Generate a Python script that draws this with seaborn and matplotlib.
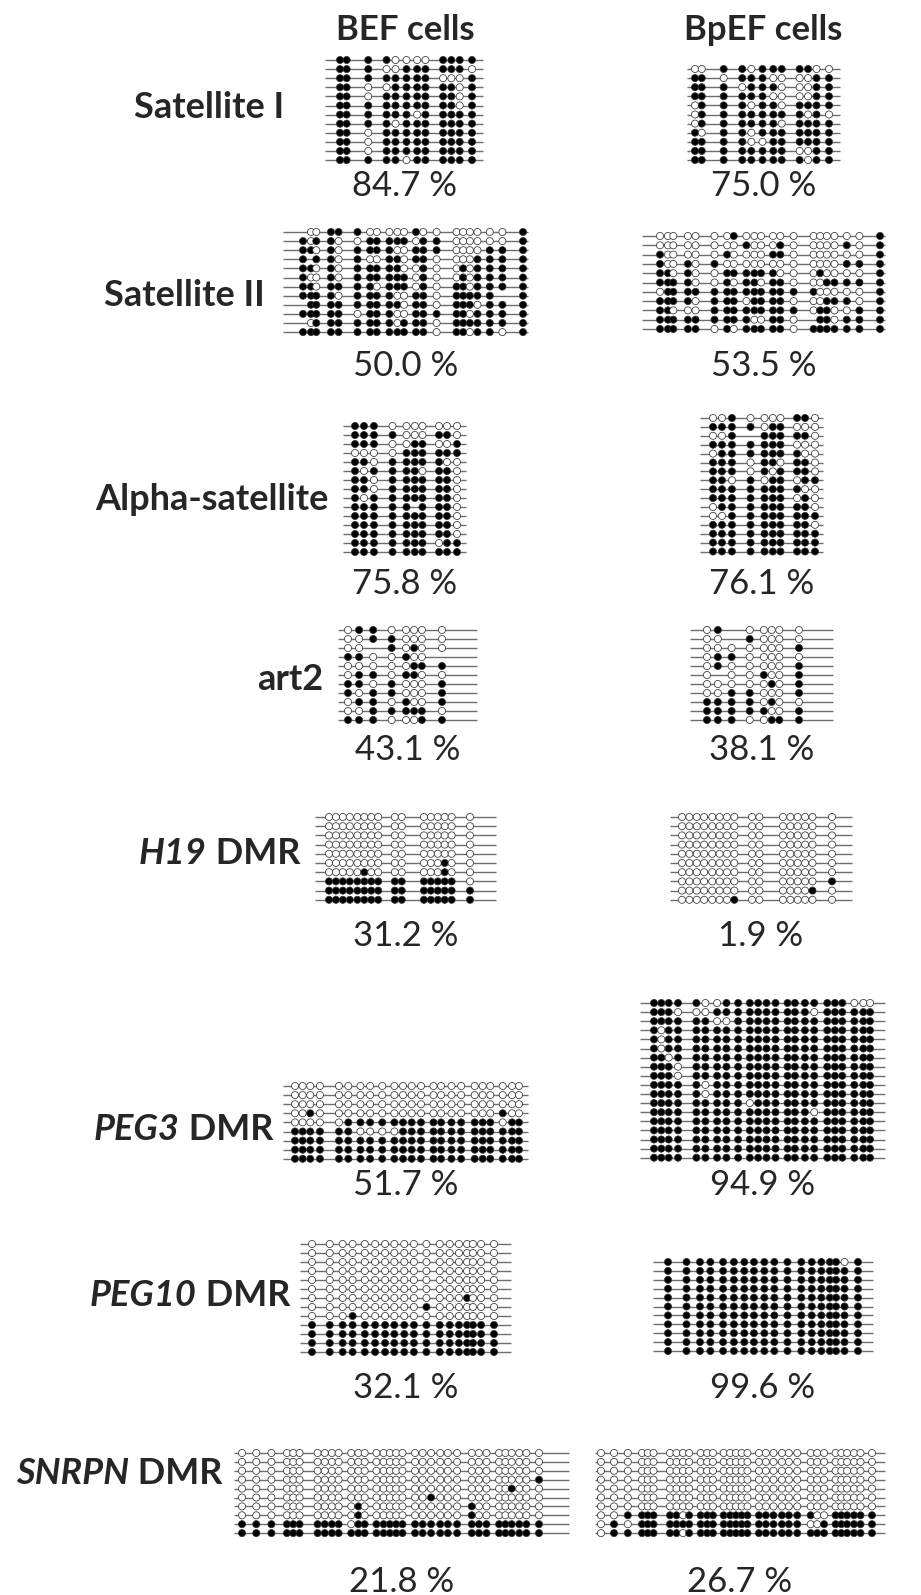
import numpy as np
import pandas as pd
import matplotlib.pyplot as plt
import seaborn as sns

# ---- data: CpG site positions (relative units) and clones (1 = methylated, 0 = unmethylated, - = n.d.)
sat1_sites = [65, 85, 150, 205, 232, 265, 297, 322, 375, 400, 425, 462]
sat1_bef = ["11 1 10000 111 1", "11 1 00111 111 0", "11 1 11111 000 1", "11 0 01111 110 1",
            "11 0 11111 110 1", "11 1 11111 110 1", "11 1 11101 111 1", "11 1 10111 111 1",
            "11 0 11111 111 1", "11 0 11111 111 1", "11 0 11111 111 1", "11 1 11011 111 1"]
sat1_bpef = ["00 1 10111 110 0", "11 0 11100 001 1", "11 1 01110 001 1", "11 1 11100 001 1",
             "01 1 10110 111 1", "01 1 11111 101 0", "01 1 11110 111 1", "10 1 10111 111 1",
             "11 1 10011 111 1", "11 1 11111 001 1", "11 1 11111 101 1"]

sat2_sites = [68, 92, 108, 152, 175, 232, 270, 290, 328, 352, 372, 408, 430, 470,
              530, 550, 570, 593, 630, 668, 730]
sat2_bef = ["-00 11 1 00 000 10 0 0000 0 0 1", "101 10 0 11 111 01 1 0000 0 0 1",
            "110 10 1 11 100 11 1 0000 1 1 1", "1-1 10 1 00 110 11 0 0001 1 1 1",
            "110 10 1 11 110 01 0 0101 1 1 1", "100 10 1 11 111 01 0 0101 1 1 1",
            "110 11 1 10 111 01 0 1101 1 1 1", "111 10 1 11 100 11 0 1111 1 - 1",
            "-11 11 1 11 110 11 0 1110 1 1 1", "111 11 0 11 100 11 1 1101 1 1 1",
            "-01 11 1 11 101 11 0 1111 1 1 1", "111 11 1 11 111 11 0 1101 1 0 1"]
sat2_bpef = ["000 00 0 01 000 00 0 0000 0 0 1", "000 00 0 00 100 01 0 0000 1 0 1",
             "100 00 0 10 000 11 0 0000 0 0 1", "100 10 1 00 000 00 0 0000 1 1 1",
             "110 10 0 11 111 10 0 0100 0 0 1", "111 10 0 10 110 11 0 0011 1 1 1",
             "011 11 1 11 111 11 1 1000 0 0 1", "111 10 1 11 011 11 0 0011 1 0 1",
             "110 00 1 11 111 11 1 0110 0 1 1", "111 11 1 11 100 11 0 -110 1 1 1",
             "111 11 0 10 111 11 0 1111 1 1 1"]

alpha_sites = [45, 72, 102, 158, 200, 225, 248, 298, 322, 352]
alpha_bef = ["111 0 000 000", "111 1 000 110", "111 0 011 001", "000 0 111 111", "110 1 111 100",
             "101 1 110 110", "110 1 111 110", "110 1 111 110", "101 1 111 110", "111 1 1-1 110",
             "111 1 111 110", "111 1 111 110", "111 1 111 110", "111 1 111 011", "111 1 111 111"]
alpha_bpef = ["001 0 000 110", "111 1 011 000", "001 - 111 110", "111 1 111 000", "011 1 111 100",
              "111 0 110 110", "111 0 101 110", "110 1 011 011", "111 1 111 100", "111 1 111 010",
              "011 1 111 110", "001 1 111 111", "111 1 111 110", "111 1 111 111", "111 1 111 111",
              "111 1 111 111"]

art2_sites = [25, 58, 100, 155, 198, 222, 245, 305]
art2_bef = ["01 1 0 000 0", "00 1 1 000 0", "00 - 1 010 0", "11 0 0 100 -", "00 0 0 011 1",
            "01 1 0 110 0", "11 0 1 000 1", "10 1 1 000 1", "01 1 0 100 1", "00 1 1 111 0",
            "11 1 0 001 1"]
art2_bpef = ["01 - 0 000 0", "00 - 1 000 0", "00 0 0 000 1", "01 1 0 000 0", "01 0 0 000 1",
             "0- 0 0 100 1", "00 0 0 010 1", "00 1 1 000 1", "11 1 1 010 0", "11 1 1 100 1",
             "11 1 0 011 1"]

h19_sites = [68, 88, 108, 128, 150, 170, 190, 210, 258, 278, 342, 362, 382, 402, 422, 475]
h19_bef = ["0000 0000 00 00000 0"] * 5 + ["0000 0000 00 00010 0", "0000 0100 00 00010 0",
           "1111 1111 11 11111 0", "1111 1111 11 11111 1", "1111 1111 11 11111 1"]
h19_bpef = ["0000 0000 00 00000 0"] * 7 + ["0000 0000 00 00000 1", "0000 0000 00 00001 0",
            "0000 0001 00 00000 0"]

peg3_sites = [118, 140, 162, 190, 245, 272, 307, 335, 370, 405, 430, 455, 482,
              518, 540, 570, 598, 637, 660, 682, 718, 745, 765]
peg3_bef = ["0000 0000 0 0000 00 00 0 00 0 00"] * 3 + [
    "0010 0000 0 0000 00 00 0 00 1 00", "0000 0111 1 1111 11 11 1 11 0 11",
    "1111 1100 0 0111 11 11 1 11 1 11", "1111 1111 1 1111 11 11 1 11 1 11",
    "1111 1111 1 1111 11 11 1 11 1 11", "1111 1111 1 1111 11 11 1 11 1 11"]
peg3_bpef = ["1111 1001 1 1111 11 11 1 11 0 00", "1110 0011 1 1111 11 10 1 11 1 11",
             "1111 1100 1 1111 11 11 1 11 1 11", "1011 1111 1 1111 11 11 1 11 1 11",
             "1011 1111 1 1111 11 11 1 11 1 11", "1011 1111 1 1111 11 11 1 11 1 11",
             "1101 1111 1 1111 11 11 1 11 1 11", "1110 1111 1 1111 11 11 1 11 1 11",
             "1110 1111 1 1111 11 11 1 11 1 11", "1111 1011 1 1111 11 11 1 11 1 11",
             "1111 1011 1 1111 11 11 1 11 1 11", "1111 1111 1 0111 11 11 1 11 1 11",
             "1111 1111 1 1111 11 10 1 11 1 11"] + ["1111 1111 1 1111 11 11 1 11 1 11"] * 5

peg10_sites = [32, 80, 115, 142, 175, 203, 230, 255, 282, 308, 342, 378, 405, 430, 452, 468, 490, 525]
peg10_bef = ["000000000000000000"] * 6 + ["000000000000001000", "000000000010000000",
             "000100000000000000"] + ["111111111111111111"] * 4
peg10_bpef = ["111111111111111101"] + ["111111111111111111"] * 10

snrpn_sites = [28, 62, 98, 135, 150, 165, 208, 225, 242, 258, 288, 305, 320, 348, 365, 380, 395,
               410, 440, 458, 478, 500, 518, 540, 575, 592, 610, 640, 655, 670, 688, 705, 735]
snrpn_bef = ["0 0 0 000 0000 000 00000 00 00 00 000 00000 0"] * 3 + [
    "0 0 0 000 0000 000 00000 00 00 00 000 00000 1", "0 0 0 000 0000 000 00000 00 00 00 000 00100 0",
    "0 0 0 000 0000 000 00000 00 10 00 000 00000 0", "0 0 0 000 0000 010 00000 00 00 00 100 00000 0",
    "0 0 0 000 0000 010 00000 00 00 00 100 00000 0", "1 1 1 111 1111 011 11111 11 11 11 111 11111 1",
    "1 1 1 111 1111 111 11111 11 11 11 111 11111 1"]
snrpn_bpef = ["0 0 0 000 0000 000 00000 00 00 00 000 00000 0"] * 7 + [
    "0 0 1 111 1101 111 11111 11 11 11 100 11111 1", "0 1 0 111 1111 111 11111 11 11 11 001 11111 1",
    "0 1 1 111 1101 111 11111 11 11 11 111 11111 1"]

loci = ["sat1", "sat2", "alpha", "art2", "h19", "peg3", "peg10", "snrpn"]
sites = {"sat1": sat1_sites, "sat2": sat2_sites, "alpha": alpha_sites, "art2": art2_sites,
         "h19": h19_sites, "peg3": peg3_sites, "peg10": peg10_sites, "snrpn": snrpn_sites}
clones = {("sat1", "BEF"): sat1_bef, ("sat1", "BpEF"): sat1_bpef,
          ("sat2", "BEF"): sat2_bef, ("sat2", "BpEF"): sat2_bpef,
          ("alpha", "BEF"): alpha_bef, ("alpha", "BpEF"): alpha_bpef,
          ("art2", "BEF"): art2_bef, ("art2", "BpEF"): art2_bpef,
          ("h19", "BEF"): h19_bef, ("h19", "BpEF"): h19_bpef,
          ("peg3", "BEF"): peg3_bef, ("peg3", "BpEF"): peg3_bpef,
          ("peg10", "BEF"): peg10_bef, ("peg10", "BpEF"): peg10_bpef,
          ("snrpn", "BEF"): snrpn_bef, ("snrpn", "BpEF"): snrpn_bpef}
pct_bef = ["84.7 %", "50.0 %", "75.8 %", "43.1 %", "31.2 %", "51.7 %", "32.1 %", "21.8 %"]
pct_bpef = ["75.0 %", "53.5 %", "76.1 %", "38.1 %", "1.9 %", "94.9 %", "99.6 %", "26.7 %"]
labels = [("", "Satellite I"), ("", "Satellite II"), ("", "Alpha-satellite"), ("", "art2"),
          ("H19", " DMR"), ("PEG3", " DMR"), ("PEG10", " DMR"), ("SNRPN", " DMR")]

# ---- layout in pixels: line_x0, line_x1, first_site_x, last_site_x, first_row_y, row_step
layout = {
    ("sat1", "BEF"): (325, 483, 340, 472, 60, 9.1),
    ("sat1", "BpEF"): (687, 840, 695, 829, 69, 9.1),
    ("sat2", "BEF"): (283, 528, 303, 523, 232, 9.1),
    ("sat2", "BpEF"): (642, 885, 660, 880, 236, 9.3),
    ("alpha", "BEF"): (343, 466, 355, 457, 426, 9.0),
    ("alpha", "BpEF"): (700, 823, 713, 815, 418, 8.9),
    ("art2", "BEF"): (338, 477, 348, 442, 630, 9.0),
    ("art2", "BpEF"): (690, 833, 707, 799, 630, 9.0),
    ("h19", "BEF"): (315, 496, 329, 470, 817, 9.2),
    ("h19", "BpEF"): (670, 852, 682, 832, 817, 9.2),
    ("peg3", "BEF"): (283, 528, 295, 519, 1086, 9.1),
    ("peg3", "BpEF"): (640, 885, 654, 870, 1003, 9.1),
    ("peg10", "BEF"): (300, 511, 312, 494, 1244, 9.0),
    ("peg10", "BpEF"): (653, 873, 668, 858, 1262, 8.9),
    ("snrpn", "BEF"): (234, 569, 242, 539, 1453, 8.9),
    ("snrpn", "BpEF"): (595, 885, 601, 872, 1453, 8.9),
}
pct_y = [186, 366, 584, 750, 936, 1185, 1388, 1582]
# label anchor: centre for plain labels, right edge for gene + DMR labels
label_pos = [(209, 107), (184, 295), (212, 499), (290, 680), (300, 853), (273, 1130), (290, 1295), (222, 1474)]
FS = 25
FS_LABEL = 26

rows = []
segs = []
for (locus, cell), clone_list in clones.items():
    lx0, lx1, sx0, sx1, y0, dy = layout[(locus, cell)]
    s = np.array(sites[locus], dtype=float)
    xs = sx0 + (s - s.min()) / (s.max() - s.min()) * (sx1 - sx0)
    for r, pattern in enumerate(clone_list):
        y = y0 + r * dy
        segs.append((lx0, lx1, y))
        for x, c in zip(xs, pattern.replace(" ", "")):
            if c == "-":
                continue
            rows.append({"x": x, "y": y, "state": "M" if c == "1" else "U"})
dots = pd.DataFrame(rows)

sns.set_style("white")
plt.rcParams["font.family"] = ["Lato", "DejaVu Sans"]

fig = plt.figure(figsize=(9.21, 15.95), dpi=100)
ax = fig.add_axes([0, 0, 1, 1])
for lx0, lx1, y in segs:
    ax.hlines(y, lx0, lx1, color="#6e6e6e", lw=1.0, zorder=1)
sns.scatterplot(data=dots, x="x", y="y", hue="state", palette={"M": "black", "U": "white"},
                s=26, edgecolor="#333333", linewidth=0.55, legend=False, ax=ax, zorder=2)
ax.set_xlim(0, 921)
ax.set_ylim(1595, 0)
ax.axis("off")

ax.text(405, 30, "BEF cells", fontsize=FS, fontweight="bold", ha="center", va="center")
ax.text(763, 30, "BpEF cells", fontsize=FS, fontweight="bold", ha="center", va="center")

renderer = fig.canvas.get_renderer()
inv = ax.transData.inverted()
for i, locus in enumerate(loci):
    bx0, bx1 = layout[(locus, "BEF")][:2]
    px0, px1 = layout[(locus, "BpEF")][:2]
    ax.text((bx0 + bx1) / 2, pct_y[i], pct_bef[i], fontsize=FS, ha="center", va="center")
    ax.text((px0 + px1) / 2, pct_y[i], pct_bpef[i], fontsize=FS, ha="center", va="center")
    ital, rest = labels[i]
    lx, ly = label_pos[i]
    if ital:
        t = ax.text(lx, ly, rest, fontsize=FS_LABEL, fontweight="bold", ha="right", va="center")
        bb = t.get_window_extent(renderer)
        left = inv.transform((bb.x0, bb.y0))[0]
        ax.text(left, ly, ital, fontsize=FS_LABEL, fontweight="bold", fontstyle="italic",
                ha="right", va="center")
    else:
        ax.text(lx, ly, rest, fontsize=FS_LABEL, fontweight="bold", ha="center", va="center")

fig.savefig("out.png", dpi=100, facecolor="white")
